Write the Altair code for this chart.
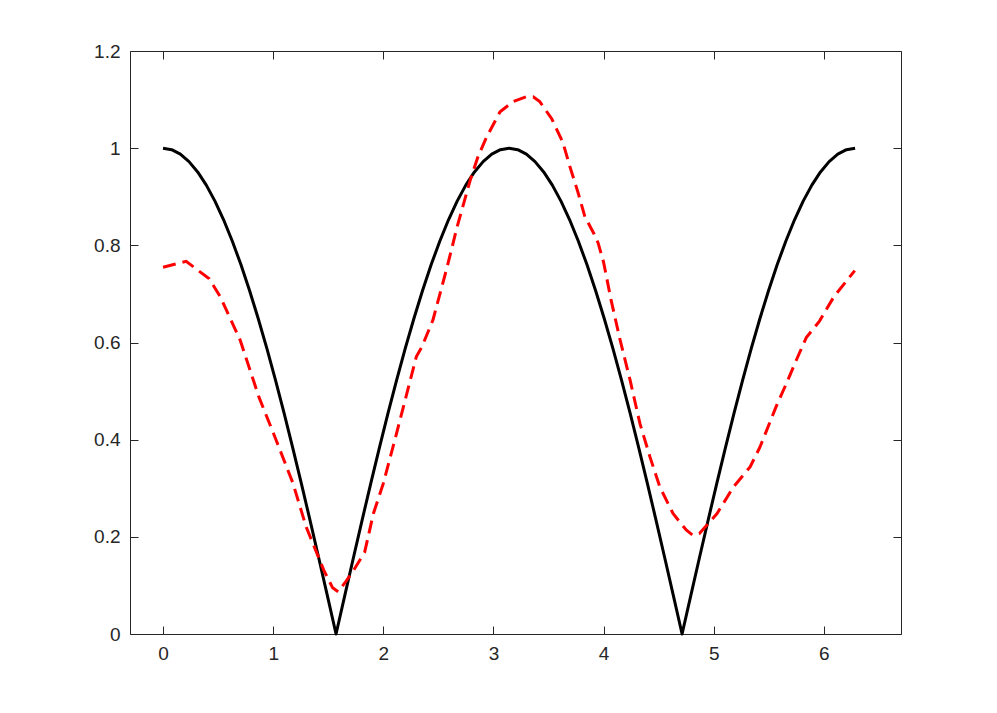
import altair as alt
import pandas as pd

# Black curve samples (x, y)
black_x = [0, 0.0785, 0.1571, 0.2356, 0.3142, 0.3927, 0.4712, 0.5498, 0.6283, 0.7069,
           0.7854, 0.8639, 0.9425, 1.0210, 1.0996, 1.1781, 1.2566, 1.3352, 1.4137, 1.4923,
           1.5708, 1.6493, 1.7279, 1.8064, 1.8850, 1.9635, 2.0420, 2.1206, 2.1991, 2.2777,
           2.3562, 2.4347, 2.5133, 2.5918, 2.6704, 2.7489, 2.8274, 2.9060, 2.9845, 3.0631,
           3.1416, 3.2201, 3.2987, 3.3772, 3.4558, 3.5343, 3.6128, 3.6914, 3.7699, 3.8485,
           3.9270, 4.0055, 4.0841, 4.1626, 4.2412, 4.3197, 4.3982, 4.4768, 4.5553, 4.6338,
           4.7124, 4.7909, 4.8695, 4.9480, 5.0265, 5.1051, 5.1836, 5.2622, 5.3407, 5.4192,
           5.4978, 5.5763, 5.6549, 5.7334, 5.8119, 5.8905, 5.9690, 6.0476, 6.1261, 6.2046,
           6.2832]
black_y = [1.0, 0.99692, 0.98769, 0.97237, 0.95106, 0.92388, 0.89101, 0.85264, 0.80902, 0.76041,
           0.70711, 0.64945, 0.58779, 0.52250, 0.45399, 0.38268, 0.30902, 0.23345, 0.15643, 0.07846,
           0.0, 0.07846, 0.15643, 0.23345, 0.30902, 0.38268, 0.45399, 0.52250, 0.58779, 0.64945,
           0.70711, 0.76041, 0.80902, 0.85264, 0.89101, 0.92388, 0.95106, 0.97237, 0.98769, 0.99692,
           1.0, 0.99692, 0.98769, 0.97237, 0.95106, 0.92388, 0.89101, 0.85264, 0.80902, 0.76041,
           0.70711, 0.64945, 0.58779, 0.52250, 0.45399, 0.38268, 0.30902, 0.23345, 0.15643, 0.07846,
           0.0, 0.07846, 0.15643, 0.23345, 0.30902, 0.38268, 0.45399, 0.52250, 0.58779, 0.64945,
           0.70711, 0.76041, 0.80902, 0.85264, 0.89101, 0.92388, 0.95106, 0.97237, 0.98769, 0.99692,
           1.0]

# Red dashed curve
red_x = [0.0, 0.21, 0.42, 0.52, 0.70, 0.87, 1.02, 1.18, 1.30, 1.46, 1.54, 1.59, 1.65, 1.73,
         1.83, 1.91, 2.00, 2.12, 2.30, 2.35, 2.45, 2.58, 2.67, 2.79, 2.86, 2.94, 3.06, 3.18,
         3.30, 3.36, 3.42, 3.53, 3.63, 3.69, 3.77, 3.83, 3.91, 3.95, 4.00, 4.07, 4.15, 4.24,
         4.33, 4.42, 4.51, 4.63, 4.75, 4.81, 4.87, 5.03, 5.18, 5.33, 5.42, 5.57, 5.66, 5.75,
         5.84, 5.96, 6.09, 6.28]
red_y = [0.755, 0.767, 0.731, 0.694, 0.605, 0.488, 0.403, 0.310, 0.220, 0.131, 0.095, 0.087,
         0.105, 0.131, 0.168, 0.248, 0.310, 0.413, 0.571, 0.591, 0.646, 0.756, 0.838, 0.935,
         0.983, 1.024, 1.075, 1.096, 1.106, 1.106, 1.096, 1.060, 1.012, 0.965, 0.907, 0.859,
         0.825, 0.805, 0.765, 0.685, 0.605, 0.523, 0.433, 0.365, 0.303, 0.248, 0.214, 0.203,
         0.207, 0.248, 0.303, 0.344, 0.385, 0.470, 0.516, 0.564, 0.610, 0.644, 0.694, 0.748]

x_ticks = [0, 1, 2, 3, 4, 5, 6]
y_ticks = [0, 0.2, 0.4, 0.6, 0.8, 1.0, 1.2]

black_df = pd.DataFrame({"x": black_x, "y": black_y, "i": range(len(black_x))})
red_df = pd.DataFrame({"x": red_x, "y": red_y, "i": range(len(red_x))})

FONT = "Liberation Sans"
AX = "#262626"
TICK = 8

xscale = alt.Scale(domain=[-0.3, 6.7], nice=False, zero=False)
yscale = alt.Scale(domain=[0, 1.2], nice=False, zero=False)

def ax(orient, values, labels=True, fmt=None):
    kw = dict(orient=orient, values=values, grid=False, domain=False, ticks=True,
              tickSize=TICK, offset=-TICK, tickColor=AX, tickWidth=1,
              labels=labels, labelFont=FONT, labelFontSize=19, labelColor=AX,
              title=None, labelPadding=10)
    if fmt:
        kw["format"] = fmt
    return alt.Axis(**kw)

black = alt.Chart(black_df).mark_line(color="#000000", strokeWidth=3, strokeJoin="round").encode(
    x=alt.X("x:Q", scale=xscale, axis=ax("bottom", x_ticks)),
    y=alt.Y("y:Q", scale=yscale, axis=ax("left", y_ticks, fmt="~g")),
    order="i:Q",
)

red = alt.Chart(red_df).mark_line(color="#ff0000", strokeWidth=3, strokeDash=[13, 7]).encode(
    x=alt.X("x:Q", scale=xscale, axis=ax("top", x_ticks, labels=False)),
    y=alt.Y("y:Q", scale=yscale, axis=ax("right", y_ticks, labels=False)),
    order="i:Q",
)

chart = alt.layer(black, red).resolve_axis(x="independent", y="independent").properties(
    width=771, height=583,
    padding={"left": 122, "top": 43, "right": 70, "bottom": 60},
    autosize=alt.AutoSizeParams(type="none"),
    background="white",
).configure_view(stroke=AX, strokeWidth=1)

chart.save("out.html", embed_options={"renderer": "svg", "actions": False})
